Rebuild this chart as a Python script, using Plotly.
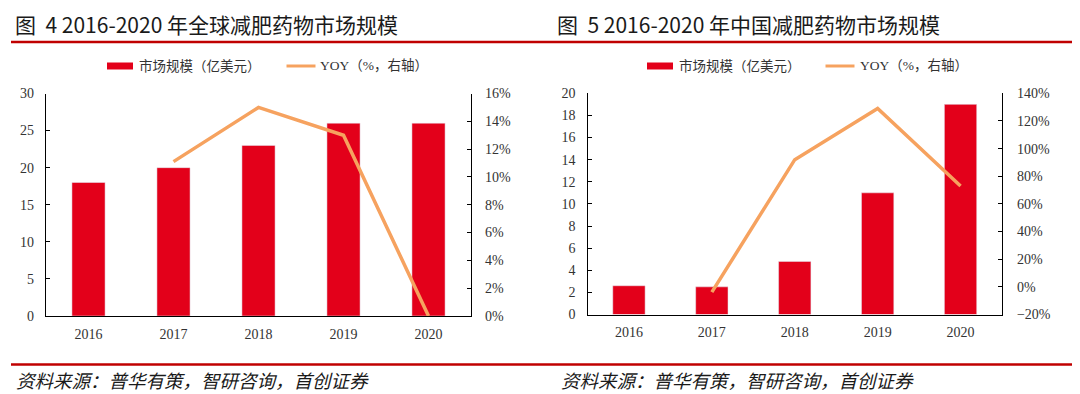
import plotly.graph_objects as go

years = ["2016", "2017", "2018", "2019", "2020"]
global_size = [18, 20, 23, 26, 26]
global_yoy = [None, 0.111, 0.15, 0.13, 0.0]
china_size = [2.6, 2.5, 4.8, 11.0, 19.0]
china_yoy = [None, -0.038, 0.92, 1.29, 0.73]

title_left = "图\u00a0\u00a04 2016-2020 年全球减肥药物市场规模"
title_right = "图\u00a0\u00a05 2016-2020 年中国减肥药物市场规模"
source_text = "资料来源：普华有策，智研咨询，首创证券"
bar_name = "市场规模（亿美元）"
line_name = "YOY（%，右轴）"

BAR_COLOR = "#E3001A"
LINE_COLOR = "#F6A25F"
RED_RULE = "#C00000"

# page body has an 8px margin; size the figure to fill the remaining viewport
OFF = 8
W, H = 1080 - OFF, 394 - OFF

def px(x):
    return (x - OFF) / W

def py(y):
    return 1 - (y - OFF) / H

tick_font = dict(family="Liberation Serif, Times New Roman, serif", size=14, color="#333333")
legend_font = dict(family="Liberation Serif, Noto Sans CJK SC, serif", size=13.5, color="#333333")

fig = go.Figure()

fig.add_trace(go.Bar(x=years, y=global_size, name=bar_name, marker_color=BAR_COLOR,
                     xaxis="x", yaxis="y", showlegend=False))
fig.add_trace(go.Scatter(x=years, y=global_yoy, name=line_name, mode="lines",
                         line=dict(color=LINE_COLOR, width=3.5), xaxis="x", yaxis="y2",
                         showlegend=False))
fig.add_trace(go.Bar(x=years, y=china_size, name=bar_name, marker_color=BAR_COLOR,
                     xaxis="x2", yaxis="y3", showlegend=False))
fig.add_trace(go.Scatter(x=years, y=china_yoy, name=line_name, mode="lines",
                         line=dict(color=LINE_COLOR, width=3.5), xaxis="x2", yaxis="y4",
                         showlegend=False))

xcommon = dict(showline=True, linecolor="#000000", linewidth=1.3, ticks="", tickfont=tick_font,
               showgrid=False, zeroline=False, ticklabelstandoff=5, fixedrange=True,
               automargin=False)
ycommon = dict(showline=True, linecolor="#000000", linewidth=1.3, ticks="inside", ticklen=4,
               tickcolor="#000000", tickwidth=1.3, tickfont=tick_font, showgrid=False,
               zeroline=False, fixedrange=True, automargin=False)

Lx = [px(46), px(471)]
Ly = [py(316), py(93.5)]
Rx = [px(587.5), px(1002)]
Ry = [py(314.5), py(93.3)]

fig.update_layout(
    width=W, height=H, autosize=False,
    margin=dict(l=0, r=0, t=0, b=0, pad=0, autoexpand=False),
    paper_bgcolor="white", plot_bgcolor="white",
    bargap=0.61,
    showlegend=False,
    xaxis=dict(domain=Lx, anchor="y", **xcommon),
    yaxis=dict(domain=Ly, anchor="x", range=[0, 30], dtick=5, ticklabelstandoff=8, **ycommon),
    yaxis2=dict(overlaying="y", anchor="x", side="right", range=[0, 0.16], dtick=0.02,
                tickformat=".0%", ticklabelstandoff=10, **ycommon),
    xaxis2=dict(domain=Rx, anchor="y3", **xcommon),
    yaxis3=dict(domain=Ry, anchor="x2", range=[0, 20], dtick=2, ticklabelstandoff=8, **ycommon),
    yaxis4=dict(overlaying="y3", anchor="x2", side="right", range=[-0.2, 1.4], dtick=0.2,
                tickformat=".0%", ticklabelstandoff=11, **ycommon),
)

# legends (drawn manually to get the flat bar swatch)
for bx, tx, lx0, lx1, ltx in [(107, 137, 286.5, 315.5, 318), (647, 677, 825.5, 854.5, 858)]:
    fig.add_shape(type="rect", xref="paper", yref="paper", x0=px(bx), x1=px(bx + 26),
                  y0=py(69.5), y1=py(62.5), fillcolor=BAR_COLOR, line=dict(width=0))
    fig.add_annotation(text=bar_name, x=px(tx), y=py(66), xref="paper", yref="paper",
                       xanchor="left", yanchor="middle", showarrow=False, font=legend_font)
    fig.add_shape(type="line", xref="paper", yref="paper", x0=px(lx0), x1=px(lx1),
                  y0=py(66), y1=py(66), line=dict(color=LINE_COLOR, width=3))
    fig.add_annotation(text=line_name, x=px(ltx), y=py(66), xref="paper", yref="paper",
                       xanchor="left", yanchor="middle", showarrow=False, font=legend_font)

title_font = dict(family="Noto Sans CJK SC, sans-serif", size=21, color="#1a1a1a")
fig.add_annotation(text=title_left, x=px(12.5), y=py(24), xref="paper", yref="paper",
                   xanchor="left", yanchor="middle", showarrow=False, font=title_font)
fig.add_annotation(text=title_right, x=px(555), y=py(24), xref="paper", yref="paper",
                   xanchor="left", yanchor="middle", showarrow=False, font=title_font)

src_font = dict(family="Noto Sans CJK SC, sans-serif", size=18.5, color="#1a1a1a", style="italic")
fig.add_annotation(text=source_text, x=px(14), y=py(380), xref="paper", yref="paper",
                   xanchor="left", yanchor="middle", showarrow=False, font=src_font)
fig.add_annotation(text=source_text, x=px(559), y=py(380), xref="paper", yref="paper",
                   xanchor="left", yanchor="middle", showarrow=False, font=src_font)

fig.add_shape(type="line", xref="paper", yref="paper", x0=px(11), x1=px(1072), y0=py(42), y1=py(42),
              line=dict(color=RED_RULE, width=2.5))
fig.add_shape(type="line", xref="paper", yref="paper", x0=px(11), x1=px(1072), y0=py(364.5), y1=py(364.5),
              line=dict(color=RED_RULE, width=2.5))

fig.write_html("out.html")
